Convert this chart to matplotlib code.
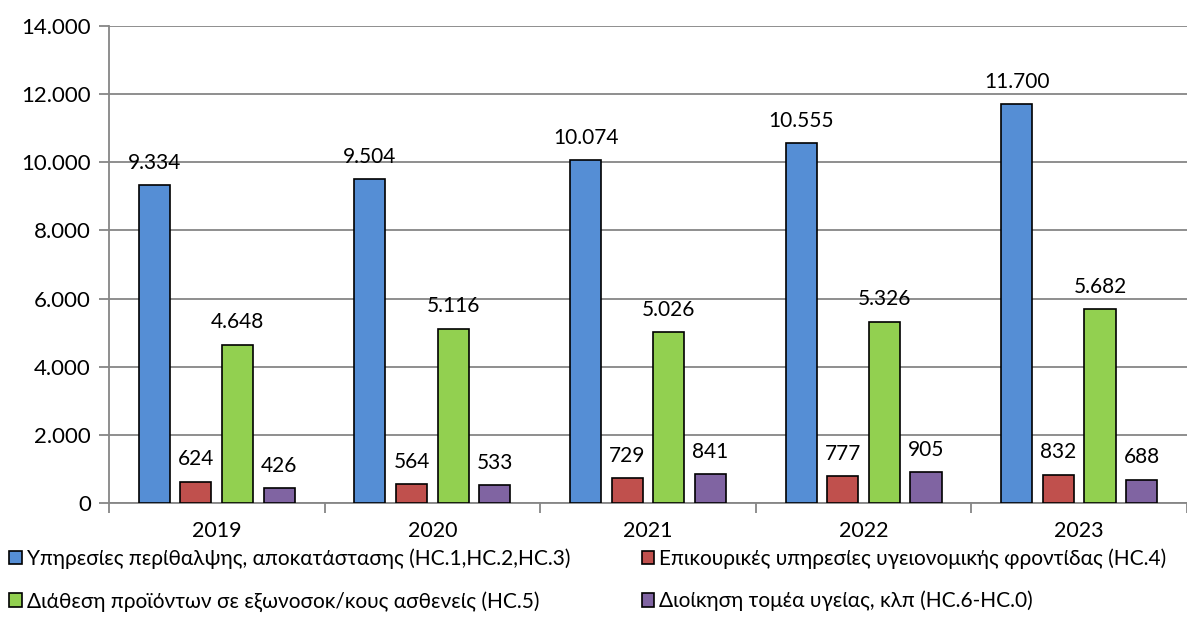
import matplotlib.pyplot as plt
import numpy as np

plt.rcParams['font.family'] = ['Lato', 'Open Sans', 'DejaVu Sans']

years = ['2019', '2020', '2021', '2022', '2023']
series_names = [
    'Υπηρεσίες περίθαλψης, αποκατάστασης (HC.1,HC.2,HC.3)',
    'Επικουρικές υπηρεσίες υγειονομικής φροντίδας (HC.4)',
    'Διάθεση προϊόντων σε εξωνοσοκ/κους ασθενείς (HC.5)',
    'Διοίκηση τομέα υγείας, κλπ (HC.6-HC.0)',
]
care = [9334, 9504, 10074, 10555, 11700]
ancillary = [624, 564, 729, 777, 832]
products = [4648, 5116, 5026, 5326, 5682]
admin = [426, 533, 841, 905, 688]
colors = ['#558ED5', '#C0504D', '#92D050', '#8064A2']


def fmt(v):
    return f'{v:,}'.replace(',', '.')


fig = plt.figure(figsize=(11.87, 6.31), dpi=100)
ax = fig.add_axes([0.0918, 0.2029, 0.9082, 0.7559])

x = np.arange(len(years))
step = 0.193
width = 0.144
all_series = [care, ancillary, products, admin]
handles = []
for i, vals in enumerate(all_series):
    pos = x + (i - 1.5) * step
    bars = ax.bar(pos, vals, width, color=colors[i], edgecolor='black',
                  linewidth=1.2, zorder=3, label=series_names[i])
    handles.append(bars)
    for b, v in zip(bars, vals):
        ax.annotate(fmt(v), (b.get_x() + b.get_width() / 2, v),
                    xytext=(0, 16), textcoords='offset points',
                    ha='center', va='center', fontsize=15, zorder=4)

ax.set_xlim(-0.5, 4.5)
ax.set_ylim(0, 14000)
ax.set_yticks(np.arange(0, 14001, 2000))
ax.set_yticklabels([fmt(v) for v in range(0, 14001, 2000)], fontsize=16)
ax.yaxis.grid(True, color='#868686', linewidth=1.3, zorder=0)
ax.set_axisbelow(True)

ax.set_xticks(x)
ax.set_xticklabels(years, fontsize=15.5)
ax.set_xticks(np.arange(-0.5, 5, 1), minor=True)
ax.tick_params(axis='x', which='major', length=0, pad=13)
ax.tick_params(axis='x', which='minor', length=7, color='#868686', width=1.3)
ax.tick_params(axis='y', length=7, color='#868686', width=1.3, pad=6)

for s in ['top', 'right']:
    ax.spines[s].set_visible(False)
for s in ['left', 'bottom']:
    ax.spines[s].set_color('#868686')
    ax.spines[s].set_linewidth(1.3)

# legend fills column by column, so reorder to get row-wise layout
order = [0, 2, 1, 3]
fig.legend(handles=[handles[k] for k in order],
           labels=[series_names[k] for k in order], loc='upper left',
           bbox_to_anchor=(0.008, 0.131), ncol=2, frameon=False,
           fontsize=15, handlelength=0.6, handleheight=0.6,
           handletextpad=0.25, columnspacing=3.4, labelspacing=1.05,
           borderaxespad=0, borderpad=0)

fig.savefig('out.png', dpi=100)
